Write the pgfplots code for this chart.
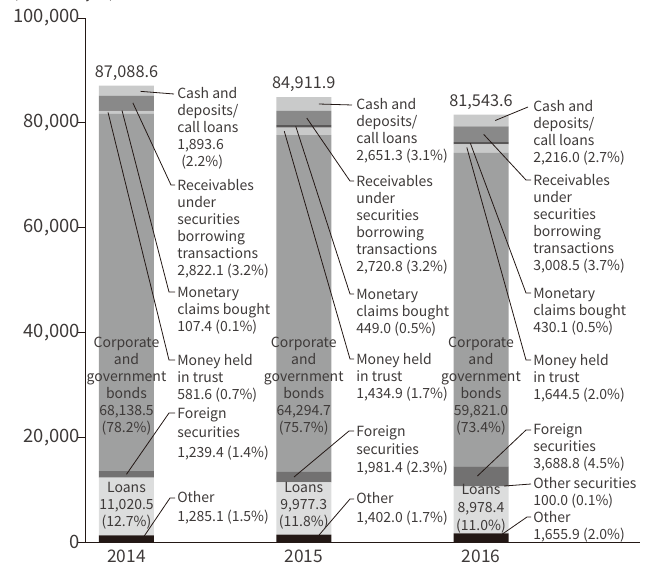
\documentclass[border=0pt]{standalone}
\usepackage{pgfplots}
\usepackage{pgfplotstable}
\pgfplotsset{compat=1.18}
\usepackage{fontspec}
\setmainfont{Noto Sans CJK JP}

\definecolor{txt}{HTML}{3E3A39}
\definecolor{ln}{HTML}{231815}
\definecolor{cOther}{HTML}{231815}
\definecolor{cLoans}{HTML}{DCDDDD}
\definecolor{cOthSec}{HTML}{B5B5B6}
\definecolor{cForeign}{HTML}{727171}
\definecolor{cCorp}{HTML}{9FA0A0}
\definecolor{cTrust}{HTML}{C9CACA}
\definecolor{cMon}{HTML}{595757}
\definecolor{cRecv}{HTML}{898989}
\definecolor{cCash}{HTML}{C9CACA}

% assets by type, 100 million yen (x: 0=2014, 1=2015, 2=2016)
\pgfplotstableread{
x other   loans   othsec foreign corp    trust  mon   recv   cash
0 1285.1  11020.5 0      1239.4  68138.5 581.6  107.4 2822.1 1893.6
1 1402.0  9977.3  0      1981.4  64294.7 1434.9 449.0 2720.8 2651.3
2 1655.9  8978.4  100.0  3688.8  59821.0 1644.5 430.1 3008.5 2216.0
}\assets

\begin{document}
\begin{tikzpicture}[
  % multi-line nodes: base = baseline of the LAST line
  lab/.style={anchor=base west, align=left, inner sep=0pt, text=txt,
    font=\fontsize{10.5}{12.75}\selectfont},
  inbar/.style={anchor=base, align=center, inner sep=0pt, text=txt,
    font=\fontsize{10.5}{12.75}\selectfont},
  lead/.style={draw=ln, line width=0.6pt},
  tot/.style={anchor=base, text=txt, font=\fontsize{12.2}{15}\selectfont, yshift=6.4pt},
]
\begin{axis}[
  scale only axis,
  width=416.25pt, height=393pt,
  ybar stacked, bar width=41.25pt,
  xmin=-0.2341, xmax=2.897,
  ymin=0, ymax=100000,
  axis lines*=left,
  axis line style={ln, line width=0.7pt},
  xtick=data, xticklabels={2014,2015,2016},
  xtick style={draw=none},
  x tick label style={font=\fontsize{13}{15}\selectfont, text=txt, yshift=3pt},
  ytick={0,20000,40000,60000,80000,100000},
  ytick style={ln, line width=0.7pt},
  tick align=outside, major tick length=5.25pt,
  y tick label style={font=\fontsize{13.8}{16}\selectfont, text=txt, xshift=5pt},
  scaled y ticks=false,
  yticklabel={\pgfmathprintnumber[fixed, precision=0, 1000 sep={,}, assume math mode=true]{\tick}},
]
\addplot[fill=cOther, draw=none] table[x=x, y=other] {\assets};
\addplot[fill=cLoans, draw=none] table[x=x, y=loans] {\assets};
\addplot[fill=cOthSec, draw=none] table[x=x, y=othsec] {\assets};
\addplot[fill=cForeign, draw=none] table[x=x, y=foreign] {\assets};
\addplot[fill=cCorp, draw=none] table[x=x, y=corp] {\assets};
\addplot[fill=cTrust, draw=none] table[x=x, y=trust] {\assets};
\addplot[fill=cMon, draw=none] table[x=x, y=mon] {\assets};
\addplot[fill=cRecv, draw=none] table[x=x, y=recv] {\assets};
\addplot[fill=cCash, draw=none] table[x=x, y=cash] {\assets};

% totals
\node[tot] at (axis cs:0,87088.6) {87,088.6};
\node[tot] at (axis cs:1,84911.9) {84,911.9};
\node[tot] at (axis cs:2,81543.6) {81,543.6};

% leader line starts on the segments
\coordinate (a1) at (axis cs:0.08,86000);
\coordinate (a2) at (axis cs:0.036,83800);
\coordinate (a3) at (axis cs:-0.025,82318);
\coordinate (a4) at (axis cs:-0.104,81975);
\coordinate (a5) at (axis cs:0.0,12925);
\coordinate (a6) at (axis cs:0.09,640);
\coordinate (b1) at (axis cs:1.085,83588);
\coordinate (b2) at (axis cs:1.017,80916);
\coordinate (b3) at (axis cs:0.955,79315);
\coordinate (b4) at (axis cs:0.89,78400);
\coordinate (b5) at (axis cs:0.945,12400);
\coordinate (b6) at (axis cs:1.073,800);
\coordinate (c1) at (axis cs:2.08,80435);
\coordinate (c2) at (axis cs:2.015,77800);
\coordinate (c3) at (axis cs:1.94,76100);
\coordinate (c4) at (axis cs:1.92,75300);
\coordinate (c5) at (axis cs:1.98,12600);
\coordinate (c6) at (axis cs:2.13,10684);
\coordinate (c7) at (axis cs:2.09,800);
\end{axis}

% annotations, in pixel units of the reference
\begin{scope}[shift={(-63.75pt,406.5pt)}, x=0.75pt, y=-0.75pt]
\node[lab] at (13,-1.5) {(Billions of yen)};

% 2014
\draw[lead] (a1) -- (174,94);
\draw[lead] (a2) -- (171,185) -- (175,185);
\draw[lead] (a3) -- (169,292) -- (175,292);
\draw[lead] (a4) -- (169,360) -- (175,360);
\draw[lead] (a5) -- (169,413) -- (175,413);
\draw[lead] (a6) -- (170,498) -- (175,498);
\node[lab] at (177,167) {Cash and\\deposits/\\call loans\\1,893.6\\\hspace{3pt}(2.2\%)};
\node[lab] at (177,275) {Receivables\\under\\securities\\borrowing\\transactions\\2,822.1 (3.2\%)};
\node[lab] at (177,331) {Monetary\\claims bought\\107.4 (0.1\%)};
\node[lab] at (177,399) {Money held\\in trust\\581.6 (0.7\%)};
\node[lab, font=\fontsize{10.5}{14.6}\selectfont] at (177,457) {Foreign\\securities\\1,239.4 (1.4\%)};
\node[lab, font=\fontsize{10.5}{13.9}\selectfont] at (177,521.5) {Other\\1,285.1 (1.5\%)};
\node[inbar] at (126.5,432) {Corporate\\and\\government\\bonds\\68,138.5\\(78.2\%)};
\node[inbar] at (126.5,526) {Loans\\11,020.5\\(12.7\%)};

% 2015
\draw[lead] (b1) -- (352,105);
\draw[lead] (b2) -- (350,181) -- (354,181);
\draw[lead] (b3) -- (350,294) -- (354,294);
\draw[lead] (b4) -- (350,359) -- (354,359);
\draw[lead] (b5) -- (349,431) -- (354,431);
\draw[lead] (b6) -- (350,499) -- (354,499);
\node[lab] at (356,161) {Cash and\\deposits/\\call loans\\2,651.3 (3.1\%)};
\node[lab] at (356,271) {Receivables\\under\\securities\\borrowing\\transactions\\2,720.8 (3.2\%)};
\node[lab] at (356,333) {Monetary\\claims bought\\449.0 (0.5\%)};
\node[lab] at (356,398) {Money held\\in trust\\1,434.9 (1.7\%)};
\node[lab, font=\fontsize{10.5}{13.5}\selectfont] at (356,472) {Foreign\\securities\\1,981.4 (2.3\%)};
\node[lab, font=\fontsize{10.5}{13.9}\selectfont] at (356,522.5) {Other\\1,402.0 (1.7\%)};
\node[inbar] at (303.75,432) {Corporate\\and\\government\\bonds\\64,294.7\\(75.7\%)};
\node[inbar] at (303.75,526) {Loans\\9,977.3\\(11.8\%)};

% 2016
\draw[lead] (c1) -- (528,107);
\draw[lead] (c2) -- (526,180) -- (531,180);
\draw[lead] (c3) -- (526,293) -- (531,293);
\draw[lead] (c4) -- (526,360) -- (531,360);
\draw[lead] (c5) -- (526,430) -- (531,430);
\draw[lead] (c6) -- (531,484);
\draw[lead] (c7) -- (527,517) -- (531,517);
\node[lab] at (533,163) {Cash and\\deposits/\\call loans\\2,216.0 (2.7\%)};
\node[lab] at (533,270) {Receivables\\under\\securities\\borrowing\\transactions\\3,008.5 (3.7\%)};
\node[lab] at (533,332) {Monetary\\claims bought\\430.1 (0.5\%)};
\node[lab] at (533,399) {Money held\\in trust\\1,644.5 (2.0\%)};
\node[lab, font=\fontsize{10.5}{12.5}\selectfont] at (533,468.3) {Foreign\\securities\\3,688.8 (4.5\%)};
\node[lab] at (533,505) {Other securities\\100.0 (0.1\%)};
\node[lab] at (533,539) {Other\\1,655.9 (2.0\%)};
\node[inbar] at (481,432) {Corporate\\and\\government\\bonds\\59,821.0\\(73.4\%)};
\node[inbar, font=\fontsize{10.5}{13.5}\selectfont] at (481,530) {Loans\\8,978.4\\(11.0\%)};

\pgfresetboundingbox
\path[use as bounding box] (0,0) rectangle (646,565);
\end{scope}
\end{tikzpicture}
\end{document}
